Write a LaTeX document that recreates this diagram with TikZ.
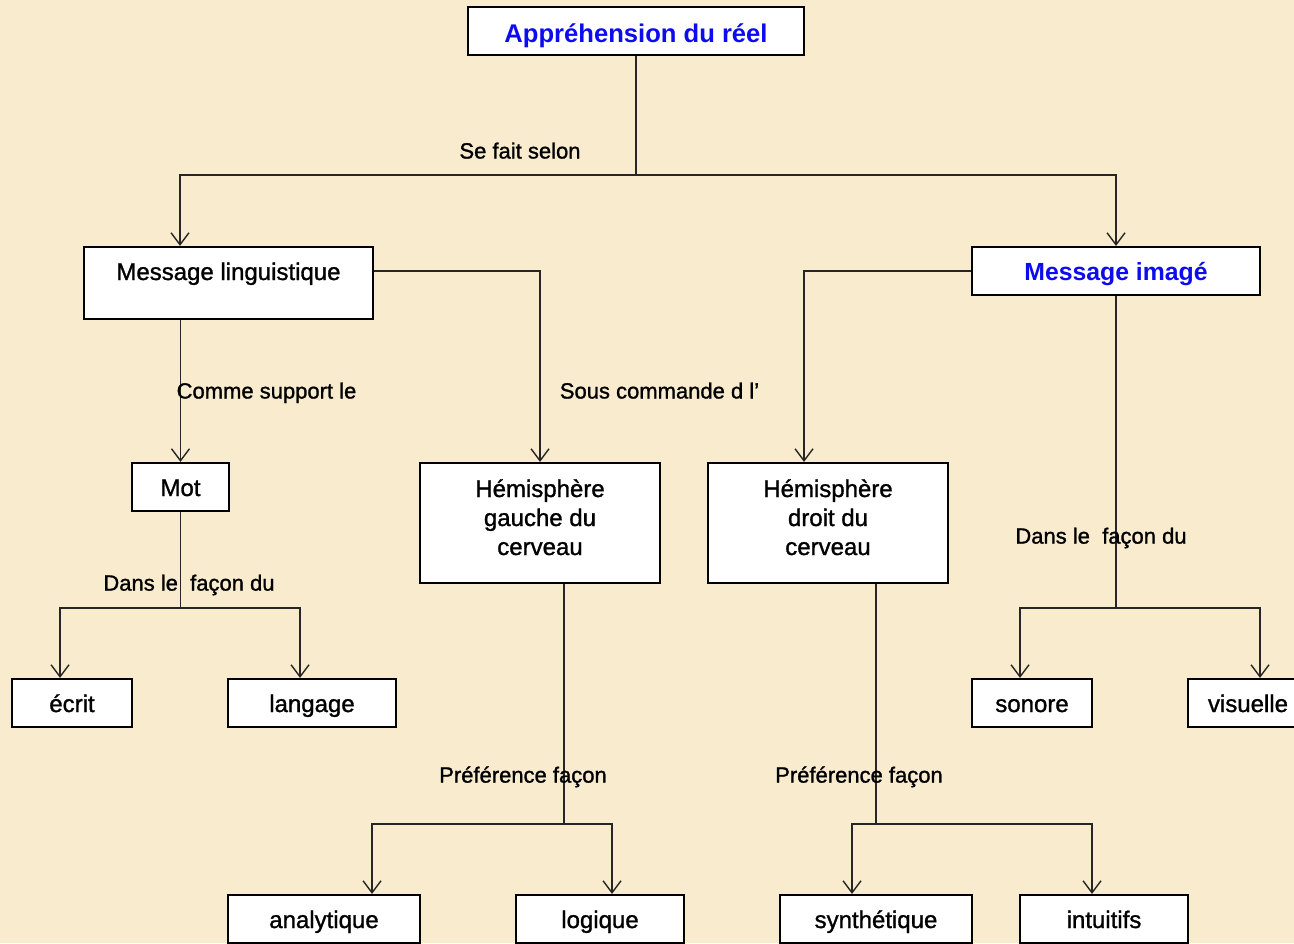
\documentclass[tikz,border=0pt]{standalone}
\usepackage{fontspec}
\setmainfont{Liberation Sans}
\newfontfamily\medium[FakeBold=1.2,Ligatures=TeX]{Liberation Sans}
\usetikzlibrary{calc,arrows.meta}
\definecolor{paper}{RGB}{249,235,206}
\definecolor{titleblue}{RGB}{12,12,238}

\begin{document}
\begin{tikzpicture}[x=0.5pt,y=-0.5pt,box/.style={draw,line width=1.1pt,fill=white,inner sep=0pt,align=center,font=\medium\fontsize{12}{14.5}\selectfont,text height=10pt,text depth=1pt},title/.style={box,text=titleblue,font=\bfseries\fontsize{12.8}{15}\selectfont},note/.style={inner sep=0pt,font=\medium\fontsize{11}{13}\selectfont,text height=9.5pt,text depth=1pt},link/.style={line width=0.7pt,draw=black!85},arrow/.style={link,-{Straight Barb[length=6pt,width=9pt]}}]
  \fill[paper] (0,0) rectangle (1294,943);
  \useasboundingbox (0,0) rectangle (1294,943);

  % boxes
  \node[title,minimum width=168pt,minimum height=24pt,text height=11.5pt,text depth=0.5pt] (reel) at (636,31) {Appréhension du réel};
  \node[box,minimum width=144.5pt,text height=16.5pt,text depth=19.5pt] (linguistique) at ($ (reel) + (-407.5,252) $) {Message linguistique};
  \node[title,font=\bfseries\fontsize{12.4}{15}\selectfont,minimum width=144pt,minimum height=24pt] (image) at ($ (reel) + (480,240) $) {Message imagé};
  \node[box,minimum width=48.5pt,minimum height=24pt] (mot) at ($ (linguistique) + (-48,204) $) {Mot};
  \node[box,minimum width=120pt,minimum height=60pt,text height=38pt,text depth=6pt] (gauche) at ($ (linguistique) + (311.5,240) $) {Hémisphère\\gauche du\\cerveau};
  \node[box,minimum width=120pt,minimum height=60pt,text height=38pt,text depth=6pt] (droit) at ($ (image) + (-288,252) $) {Hémisphère\\droit du\\cerveau};
  \node[box,minimum width=60pt,minimum height=24pt] (ecrit) at ($ (mot) + (-108.5,216) $) {écrit};
  \node[box,minimum width=84pt,minimum height=24pt] (langage) at ($ (mot) + (131.5,216) $) {langage};
  \node[box,minimum width=60pt,minimum height=24pt] (sonore) at ($ (image) + (-84,432) $) {sonore};
  \node[box,minimum width=60pt,minimum height=24pt] (visuelle) at ($ (image) + (132,432) $) {visuelle};
  \node[box,minimum width=96pt,minimum height=24pt] (analytique) at ($ (gauche) + (-216,396) $) {analytique};
  \node[box,minimum width=84pt,minimum height=24pt] (logique) at ($ (gauche) + (60,396) $) {logique};
  \node[box,minimum width=96pt,minimum height=24pt] (synthetique) at ($ (droit) + (48,396) $) {synthétique};
  \node[box,minimum width=84pt,minimum height=24pt] (intuitifs) at ($ (droit) + (276,396) $) {intuitifs};

  % branch points
  \coordinate (selon) at ($ (reel) + (0,144) $);
  \coordinate (motsplit) at ($ (mot.south) + (0,96) $);
  \coordinate (imagesplit) at ($ (image.south) + (0,312) $);
  \coordinate (gauchesplit) at ($ (gauche.south) + (24,240) $);
  \coordinate (droitsplit) at ($ (droit.south) + (48,240) $);

  % links
  \draw[link] (reel) -- (selon);
  \draw[arrow] (selon) -| ($ (linguistique.north) + (-48.5,0) $);
  \draw[arrow] (selon) -| (image.north);
  \draw[arrow] ([yshift=6pt]linguistique.east) -| (gauche.north);
  \draw[arrow] (image.west) -| ($ (droit.north) + (-24,0) $);
  \draw[arrow] (linguistique.south -| mot.north) -- (mot.north);
  \draw[link] (mot) -- (motsplit);
  \draw[arrow] (motsplit) -| ($ (ecrit.north) + (-12,0) $);
  \draw[arrow] (motsplit) -| ($ (langage.north) + (-12,0) $);
  \draw[link] (image) -- (imagesplit);
  \draw[arrow] (imagesplit) -| ($ (sonore.north) + (-12,0) $);
  \draw[arrow] (imagesplit) -| ($ (visuelle.north) + (12,0) $);
  \draw[link] (gauchesplit |- gauche.south) -- (gauchesplit);
  \draw[arrow] (gauchesplit) -| ($ (analytique.north) + (48,0) $);
  \draw[arrow] (gauchesplit) -| ($ (logique.north) + (12,0) $);
  \draw[link] (droitsplit |- droit.south) -- (droitsplit);
  \draw[arrow] (droitsplit) -| ($ (synthetique.north) + (-24,0) $);
  \draw[arrow] (droitsplit) -| ($ (intuitifs.north) + (-12,0) $);

  % link texts
  \node[note] (selontxt) at ($ (selon) + (-116,-25) $) {Se fait selon};
  \node[note] (supporttxt) at ($ (mot) + (86,-97) $) {Comme support le};
  \node[note] (commandetxt) at ($ (gauche) + (119.5,-133) $) {Sous commande d l’};
  \node[note] (motfacon) at ($ (motsplit) + (8.5,-26) $) {Dans le~ façon du};
  \node[note] (imagefacon) at ($ (imagesplit) + (-15,-73) $) {Dans le~ façon du};
  \node[note] (gauchepref) at ($ (gauchesplit) + (-41,-50) $) {Préférence façon};
  \node[note] (droitpref) at ($ (droitsplit) + (-17,-50) $) {Préférence façon};
\end{tikzpicture}
\end{document}
